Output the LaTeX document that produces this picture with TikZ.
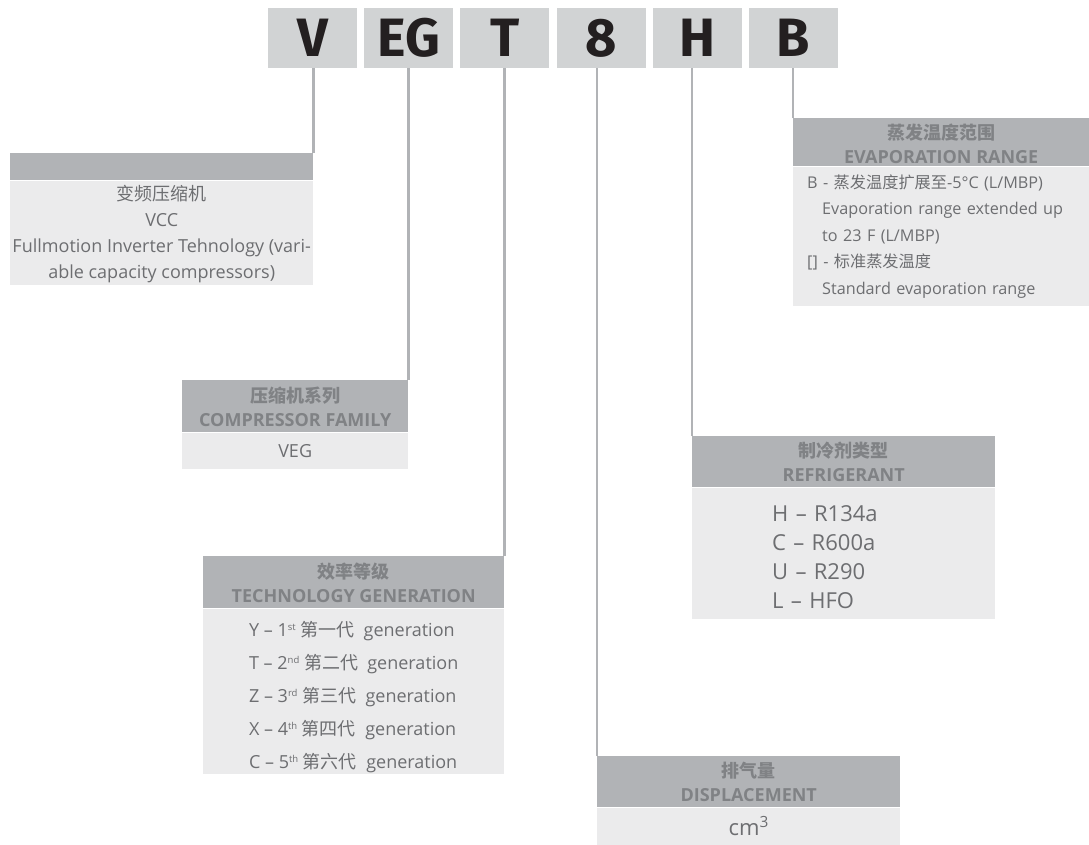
\documentclass[tikz,border=0pt]{standalone}
\usepackage{fontspec}
\setmainfont{Open Sans}
\newfontfamily\codefont{Fira Sans}
\newfontfamily\cjk{Noto Sans CJK SC}
\usetikzlibrary{positioning}

\definecolor{letterfill}{HTML}{D1D3D4}
\definecolor{letterink}{HTML}{231F20}
\definecolor{hdrfill}{HTML}{B1B3B6}
\definecolor{hdrink}{HTML}{808285}
\definecolor{bodyfill}{HTML}{EBEBEC}
\definecolor{bodyink}{HTML}{6D6E71}

\newcommand\zh[1]{{\cjk #1}}
\newcommand\ordinal[1]{\raisebox{6pt}{\fontsize{9.5}{9.5}\selectfont #1}}
% move a block down without changing its size
\newcommand\dropped[2]{\raisebox{-#1}[\height][\depth]{#2}}
\newcommand\hdrlines[2][3pt]{\dropped{#1}{\begin{tabular}{@{}c@{}}#2\end{tabular}}}

\begin{document}
\begin{tikzpicture}[
    x=1pt, y=-1pt,
    letter/.style={rectangle, fill=letterfill, text=letterink, minimum width=89, minimum height=60,
      inner sep=0, font=\codefont\bfseries\fontsize{54}{54}\selectfont},
    hdr/.style={rectangle, fill=hdrfill, text=hdrink, anchor=north west, inner sep=0, align=center,
      font=\bfseries\fontsize{18}{24}\selectfont},
    body/.style={rectangle, fill=bodyfill, text=bodyink, anchor=north west, inner sep=0, align=center,
      font=\fontsize{18}{24.5}\selectfont},
    link/.style={draw=hdrfill, line width=2.4pt}
  ]

  \useasboundingbox (0,0) rectangle (1089,844);

  % Code letters
  \foreach \t [count=\i from 0] in {V,EG,T,8,H,B}
    \node[letter] (l\t) at ({312.5+96.2*\i},38) {\t};

  % V - VCC
  \node[hdr, minimum width=303, minimum height=27] (hV) at (10,153) {};
  \node[body, minimum width=303, minimum height=103, font=\fontsize{18}{26}\selectfont] (bV) at (hV.south west) {%
    \dropped{2pt}{\begin{tabular}{@{}c@{}}\zh{变频压缩机}\\VCC\\Fullmotion Inverter Tehnology (vari-\\able capacity compressors)\end{tabular}}};

  % EG - compressor family
  \node[hdr, minimum width=226, minimum height=52] (hEG) at (182,380) {\hdrlines{\zh{压缩机系列}\\COMPRESSOR FAMILY}};
  \node[body, minimum width=226, minimum height=36] (bEG) at (hEG.south west) {VEG};

  % T - technology generation
  \node[hdr, minimum width=301, minimum height=52] (hT) at (203,556) {\hdrlines{\zh{效率等级}\\TECHNOLOGY GENERATION}};
  \node[body, minimum width=301, minimum height=165] (bT) at (hT.south west) {%
    \dropped{6pt}{\begin{tabular}{@{}l@{}}
    Y -- 1\ordinal{st} \zh{第一代}\ \ generation\\[8.5pt]
    T -- 2\ordinal{nd} \zh{第二代}\ \ generation\\[8.5pt]
    Z -- 3\ordinal{rd} \zh{第三代}\ \ generation\\[8.5pt]
    X -- 4\ordinal{th} \zh{第四代}\ \ generation\\[8.5pt]
    C -- 5\ordinal{th} \zh{第六代}\ \ generation
    \end{tabular}}};

  % 8 - displacement
  \node[hdr, minimum width=303, minimum height=51] (h8) at (597,756) {\hdrlines{\zh{排气量}\\DISPLACEMENT}};
  \node[body, minimum width=303, minimum height=37, font=\fontsize{22}{24}\selectfont] (b8) at (h8.south west) {cm\textsuperscript{3}};

  % H - refrigerant
  \node[hdr, minimum width=303, minimum height=51] (hH) at (692,436) {\hdrlines{\zh{制冷剂类型}\\REFRIGERANT}};
  \node[body, minimum width=303, minimum height=131, text width=303, align=left,
    font=\fontsize{22}{29.3}\selectfont] (bH) at (hH.south west) {%
    \hspace*{80pt}\dropped{6pt}{\begin{tabular}{@{}l@{}}
    H -- R134a\\
    C -- R600a\\
    U -- R290\\
    L -- HFO
    \end{tabular}}};

  % B - evaporation range
  \node[hdr, minimum width=296, minimum height=44] (hB) at (793,118) {\hdrlines[4pt]{\zh{蒸发温度范围}\\EVAPORATION RANGE}};
  \node[body, minimum width=296, minimum height=139, text width=268, inner xsep=14, align=left,
    font=\fontsize{16.2}{26.5}\selectfont] (bB) at (hB.south west) {%
    B - \zh{蒸发温度扩展至}-5°C (L/MBP)\\
    \hspace*{15pt}Evaporation range extended up\\
    \hspace*{15pt}to 23 F (L/MBP)\\
    {[]} - \zh{标准蒸发温度}\\
    \hspace*{15pt}Standard evaporation range};

  % Connectors
  \draw[link] (hV.north east) -- (hV.north east |- lV.south);
  \draw[link] (hEG.north east) -- (hEG.north east |- lEG.south);
  \draw[link] (hT.north east) -- (hT.north east |- lT.south);
  \draw[link] (h8.north west) -- (h8.north west |- l8.south);
  \draw[link] (hH.north west) -- (hH.north west |- lH.south);
  \draw[link] (hB.north west) -- (hB.north west |- lB.south);

\end{tikzpicture}
\end{document}
